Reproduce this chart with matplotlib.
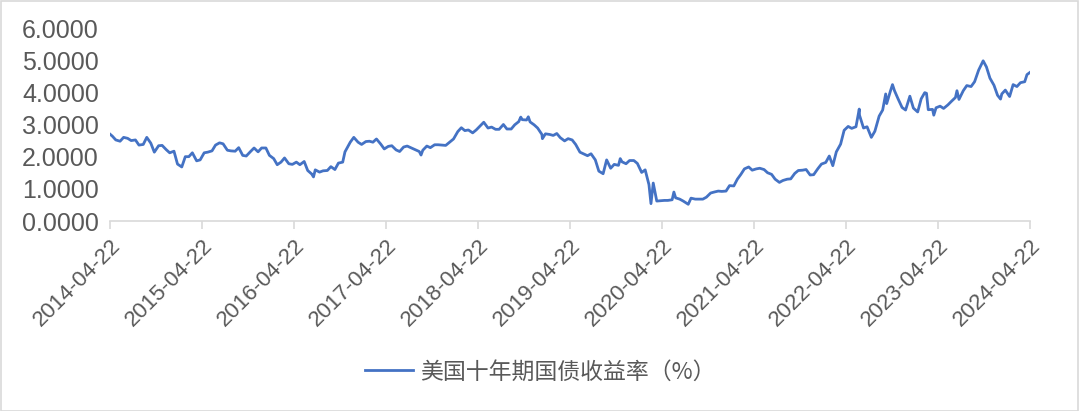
import matplotlib
matplotlib.use("Agg")
import matplotlib.pyplot as plt
import pandas as pd
from matplotlib.patches import Rectangle

dates = [
    "2014-04-22", "2014-05-01", "2014-05-15", "2014-06-01", "2014-06-15", "2014-07-01", "2014-07-15",
    "2014-08-01", "2014-08-15", "2014-09-01", "2014-09-15", "2014-10-01", "2014-10-15", "2014-11-01",
    "2014-11-15", "2014-12-01", "2014-12-15",
    "2015-01-01", "2015-01-15", "2015-02-01", "2015-02-15", "2015-03-01", "2015-03-15", "2015-04-01",
    "2015-04-15", "2015-05-01", "2015-05-15", "2015-06-01", "2015-06-15", "2015-07-01", "2015-07-15",
    "2015-08-01", "2015-08-15", "2015-09-01", "2015-09-15", "2015-10-01", "2015-10-15", "2015-11-01",
    "2015-11-15", "2015-12-01", "2015-12-15",
    "2016-01-01", "2016-01-15", "2016-02-01", "2016-02-15", "2016-03-01", "2016-03-15", "2016-04-01",
    "2016-04-15", "2016-05-01", "2016-05-15", "2016-06-01", "2016-06-15", "2016-07-01", "2016-07-08",
    "2016-07-15", "2016-08-01", "2016-08-15", "2016-09-01", "2016-09-15", "2016-10-01", "2016-10-15",
    "2016-11-01", "2016-11-10", "2016-11-15", "2016-12-01", "2016-12-15",
    "2017-01-01", "2017-01-15", "2017-02-01", "2017-02-15", "2017-03-01", "2017-03-15", "2017-04-01",
    "2017-04-15", "2017-05-01", "2017-05-15", "2017-06-01", "2017-06-15", "2017-07-01", "2017-07-15",
    "2017-08-01", "2017-08-15", "2017-09-01", "2017-09-08", "2017-09-15", "2017-10-01", "2017-10-15",
    "2017-11-01", "2017-11-15", "2017-12-01", "2017-12-15",
    "2018-01-01", "2018-01-15", "2018-02-01", "2018-02-15", "2018-03-01", "2018-03-15", "2018-04-01",
    "2018-04-15", "2018-05-01", "2018-05-15", "2018-06-01", "2018-06-15", "2018-07-01", "2018-07-15",
    "2018-08-01", "2018-08-15", "2018-09-01", "2018-09-15", "2018-10-01", "2018-10-09", "2018-10-15",
    "2018-11-01", "2018-11-08", "2018-11-15", "2018-12-01", "2018-12-15",
    "2019-01-01", "2019-01-03", "2019-01-15", "2019-02-01", "2019-02-15", "2019-03-01", "2019-03-15",
    "2019-04-01", "2019-04-15", "2019-05-01", "2019-05-15", "2019-06-01", "2019-06-15", "2019-07-01",
    "2019-07-15", "2019-08-01", "2019-08-15", "2019-09-01", "2019-09-15", "2019-10-01", "2019-10-15",
    "2019-11-01", "2019-11-08", "2019-11-15", "2019-12-01", "2019-12-15",
    "2020-01-01", "2020-01-15", "2020-02-01", "2020-02-15", "2020-03-01", "2020-03-09", "2020-03-18",
    "2020-04-01", "2020-04-15", "2020-05-01", "2020-05-15", "2020-06-01", "2020-06-08", "2020-06-15",
    "2020-07-01", "2020-07-15", "2020-08-04", "2020-08-15", "2020-09-01", "2020-09-15", "2020-10-01",
    "2020-10-15", "2020-11-01", "2020-11-15", "2020-12-01", "2020-12-15",
    "2021-01-01", "2021-01-15", "2021-02-01", "2021-02-15", "2021-03-01", "2021-03-15", "2021-04-01",
    "2021-04-15", "2021-05-01", "2021-05-15", "2021-06-01", "2021-06-15", "2021-07-01", "2021-07-15",
    "2021-08-01", "2021-08-15", "2021-09-01", "2021-09-15", "2021-10-01", "2021-10-15", "2021-11-01",
    "2021-11-15", "2021-12-01", "2021-12-15",
    "2022-01-01", "2022-01-15", "2022-02-01", "2022-02-15", "2022-03-01", "2022-03-15", "2022-04-01",
    "2022-04-15", "2022-05-01", "2022-05-15", "2022-06-01", "2022-06-14", "2022-06-15", "2022-07-01",
    "2022-07-15", "2022-08-01", "2022-08-15", "2022-09-01", "2022-09-15", "2022-09-27", "2022-10-01",
    "2022-10-15", "2022-10-24", "2022-11-01", "2022-11-15", "2022-12-01", "2022-12-15",
    "2023-01-01", "2023-01-15", "2023-02-01", "2023-02-15", "2023-03-01", "2023-03-08", "2023-03-15",
    "2023-04-01", "2023-04-06", "2023-04-15", "2023-05-01", "2023-05-15", "2023-06-01", "2023-06-15",
    "2023-07-01", "2023-07-07", "2023-07-15", "2023-08-01", "2023-08-15", "2023-09-01", "2023-09-15",
    "2023-10-01", "2023-10-19", "2023-11-01", "2023-11-15", "2023-12-01", "2023-12-15", "2023-12-27",
    "2024-01-01", "2024-01-15", "2024-02-01", "2024-02-15", "2024-03-01", "2024-03-15", "2024-04-01",
    "2024-04-10", "2024-04-22",
]

yields = [
    2.70, 2.64, 2.52, 2.48, 2.60, 2.57, 2.50,
    2.52, 2.36, 2.38, 2.60, 2.42, 2.14, 2.34,
    2.35, 2.22, 2.12,
    2.17, 1.77, 1.68, 2.00, 2.00, 2.12, 1.87,
    1.90, 2.12, 2.14, 2.18, 2.36, 2.43, 2.40,
    2.20, 2.18, 2.17, 2.28, 2.04, 2.02, 2.16,
    2.27, 2.15, 2.27,
    2.27, 2.04, 1.94, 1.75, 1.83, 1.96, 1.78,
    1.76, 1.83, 1.75, 1.85, 1.57, 1.46, 1.37,
    1.59, 1.52, 1.56, 1.57, 1.69, 1.60, 1.80,
    1.83, 2.15, 2.22, 2.45, 2.60,
    2.45, 2.38, 2.47, 2.48, 2.45, 2.55, 2.39,
    2.24, 2.32, 2.34, 2.21, 2.16, 2.30, 2.33,
    2.27, 2.22, 2.16, 2.05, 2.20, 2.33, 2.28,
    2.37, 2.37, 2.36, 2.35,
    2.46, 2.55, 2.78, 2.90, 2.81, 2.83, 2.74,
    2.83, 2.96, 3.07, 2.89, 2.92, 2.85, 2.85,
    3.00, 2.86, 2.86, 2.99, 3.09, 3.23, 3.15,
    3.14, 3.24, 3.08, 2.99, 2.89,
    2.69, 2.56, 2.71, 2.69, 2.66, 2.72, 2.59,
    2.49, 2.56, 2.52, 2.38, 2.14, 2.09, 2.03,
    2.09, 1.90, 1.55, 1.47, 1.90, 1.64, 1.76,
    1.73, 1.94, 1.84, 1.78, 1.88,
    1.88, 1.79, 1.51, 1.59, 1.13, 0.54, 1.18,
    0.62, 0.63, 0.64, 0.64, 0.66, 0.90, 0.72,
    0.68, 0.62, 0.52, 0.71, 0.68, 0.68, 0.68,
    0.74, 0.87, 0.90, 0.93, 0.92,
    0.93, 1.10, 1.09, 1.30, 1.45, 1.62, 1.68,
    1.58, 1.62, 1.64, 1.60, 1.50, 1.45, 1.30,
    1.20, 1.26, 1.30, 1.31, 1.48, 1.57, 1.58,
    1.60, 1.43, 1.44,
    1.63, 1.77, 1.82, 2.02, 1.72, 2.15, 2.39,
    2.82, 2.94, 2.88, 2.93, 3.48, 3.29, 2.89,
    2.93, 2.60, 2.79, 3.26, 3.45, 3.95, 3.65,
    4.02, 4.24, 4.05, 3.80, 3.53, 3.45,
    3.88, 3.51, 3.39, 3.80, 3.99, 3.97, 3.46,
    3.47, 3.29, 3.52, 3.57, 3.50, 3.61, 3.72,
    3.84, 4.05, 3.78, 4.05, 4.21, 4.18, 4.33,
    4.69, 4.98, 4.79, 4.44, 4.22, 3.91, 3.79,
    3.95, 4.07, 3.87, 4.24, 4.18, 4.30, 4.33,
    4.55, 4.62,
]

tick_dates = ["2014-04-22", "2015-04-22", "2016-04-22", "2017-04-22", "2018-04-22", "2019-04-22",
              "2020-04-22", "2021-04-22", "2022-04-22", "2023-04-22", "2024-04-22"]
y_ticks = [0, 1, 2, 3, 4, 5, 6]
series_name = "美国十年期国债收益率（%）"

plt.rcParams['font.family'] = ['Liberation Sans', 'Noto Sans CJK SC', 'DejaVu Sans']

W, H = 1080, 411
fig = plt.figure(figsize=(W / 100, H / 100), dpi=100)
ax = fig.add_axes([110 / W, (H - 221) / H, 920 / W, 193 / H])

x = pd.to_datetime(dates)
line, = ax.plot(x, yields, color="#4472C4", lw=2.0, label=series_name)

ax.set_xlim(pd.Timestamp(tick_dates[0]), pd.Timestamp(tick_dates[-1]))
ax.set_ylim(0, 6)
ax.set_yticks(y_ticks)
ax.set_yticklabels([f"{v:.4f}" for v in y_ticks])
ax.set_xticks(pd.to_datetime(tick_dates))
ax.set_xticklabels(tick_dates, rotation=45, ha="right", rotation_mode="anchor")

for s in ["top", "right", "left"]:
    ax.spines[s].set_visible(False)
ax.spines["bottom"].set_color("#D9D9D9")
ax.spines["bottom"].set_linewidth(1.2)
ax.tick_params(axis="x", direction="out", length=6, width=1.2, color="#D9D9D9",
               labelsize=16, labelcolor="#595959", pad=4)
ax.tick_params(axis="y", length=0, labelsize=18, labelcolor="#595959", pad=8)

leg = fig.legend(handles=[line], loc="center", bbox_to_anchor=(0.5, 1 - 372 / H),
                 frameon=False, prop={"family": ["Noto Sans CJK SC", "DejaVu Sans"], "size": 16.5},
                 handlelength=2.1, handletextpad=0.3)
for t in leg.get_texts():
    t.set_color("#595959")

fig.patches.append(Rectangle((0.0005, 0.001), 0.998, 0.997, transform=fig.transFigure,
                             fill=False, edgecolor="#D9D9D9", lw=1.2))

fig.savefig("out.png", dpi=100, facecolor="white")
